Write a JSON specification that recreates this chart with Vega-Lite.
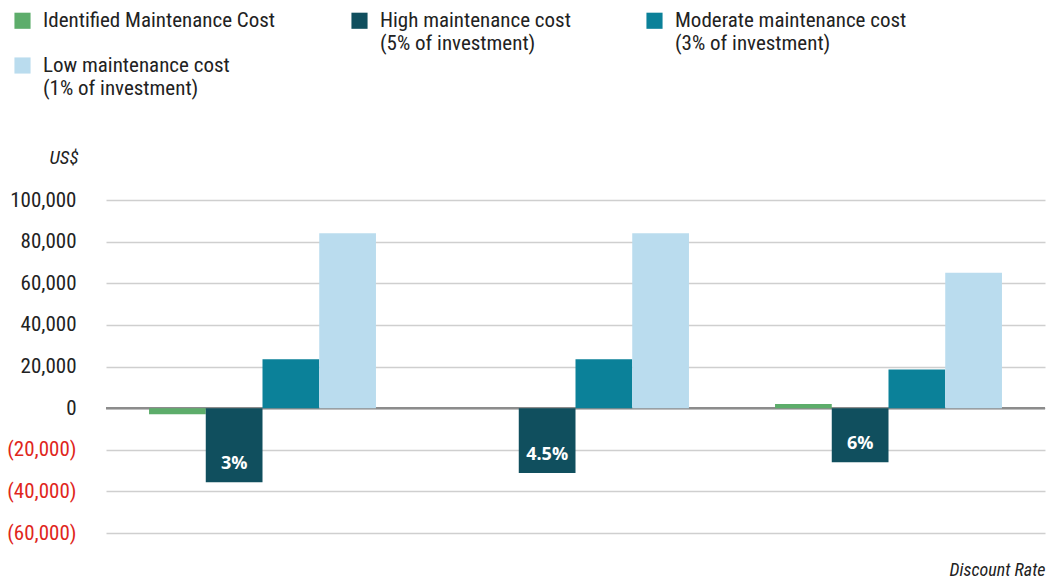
{
  "$schema": "https://vega.github.io/schema/vega-lite/v6.json",
  "width": 939,
  "height": 333,
  "autosize": {"type": "none"},
  "padding": {"left": 106, "top": 200, "right": 5, "bottom": 47},
  "background": "white",
  "config": {
    "font": "Roboto Condensed",
    "view": {"stroke": null},
    "axis": {"labelFont": "Roboto Condensed", "titleFont": "Roboto Condensed"},
    "legend": {"labelFont": "Roboto Condensed"}
  },
  "data": {
    "values": [
      {"rate": "3%", "series": "Identified Maintenance Cost|", "value": -3000},
      {"rate": "3%", "series": "High maintenance cost|(5% of investment)", "value": -35600},
      {"rate": "3%", "series": "Moderate maintenance cost|(3% of investment)", "value": 23500},
      {"rate": "3%", "series": "Low maintenance cost|(1% of investment)", "value": 84000},
      {"rate": "4.5%", "series": "Identified Maintenance Cost|", "value": 0},
      {"rate": "4.5%", "series": "High maintenance cost|(5% of investment)", "value": -31200},
      {"rate": "4.5%", "series": "Moderate maintenance cost|(3% of investment)", "value": 23500},
      {"rate": "4.5%", "series": "Low maintenance cost|(1% of investment)", "value": 84000},
      {"rate": "6%", "series": "Identified Maintenance Cost|", "value": 2000},
      {"rate": "6%", "series": "High maintenance cost|(5% of investment)", "value": -26000},
      {"rate": "6%", "series": "Moderate maintenance cost|(3% of investment)", "value": 18500},
      {"rate": "6%", "series": "Low maintenance cost|(1% of investment)", "value": 65000}
    ]
  },
  "encoding": {
    "x": {
      "field": "rate",
      "type": "nominal",
      "sort": ["3%", "4.5%", "6%"],
      "scale": {"paddingInner": 0.275, "paddingOuter": 0.1375},
      "axis": {
        "labels": false,
        "ticks": false,
        "domain": false,
        "title": "Discount Rate",
        "titleFontStyle": "italic",
        "titleFontWeight": "normal",
        "titleFontSize": 18,
        "titleColor": "#222",
        "titleAnchor": "end",
        "titlePadding": 28
      }
    },
    "xOffset": {
      "field": "series",
      "type": "nominal",
      "sort": [
        "Identified Maintenance Cost|",
        "High maintenance cost|(5% of investment)",
        "Moderate maintenance cost|(3% of investment)",
        "Low maintenance cost|(1% of investment)"
      ],
      "scale": {"paddingInner": 0, "paddingOuter": 0}
    },
    "y": {
      "field": "value",
      "type": "quantitative",
      "scale": {"domain": [-60000, 100000], "nice": false},
      "axis": {
        "values": [-60000, -40000, -20000, 0, 20000, 40000, 60000, 80000, 100000],
        "labelExpr": "datum.value < 0 ? '(' + format(-datum.value, ',') + ')' : format(datum.value, ',')",
        "labelColor": {"condition": {"test": "datum.value < 0", "value": "#e0261c"}, "value": "#222"},
        "labelFontSize": 21,
        "labelPadding": 30,
        "ticks": false,
        "domain": false,
        "gridColor": "#cfcfcf",
        "gridWidth": 1.5,
        "title": "US$",
        "titleAngle": 0,
        "titleAlign": "right",
        "titleBaseline": "middle",
        "titleX": -28,
        "titleY": -43,
        "titleFontStyle": "italic",
        "titleFontWeight": "normal",
        "titleFontSize": 19,
        "titleColor": "#222"
      }
    }
  },
  "layer": [
    {
      "mark": {"type": "rule", "color": "#8c8c8c", "strokeWidth": 2.5},
      "data": {"values": [{"zero": 0}]},
      "encoding": {
        "y": {"field": "zero", "type": "quantitative"},
        "x": null,
        "xOffset": null
      }
    },
    {
      "mark": {"type": "bar"},
      "encoding": {
        "color": {
          "field": "series",
          "type": "nominal",
          "scale": {
            "domain": [
              "Identified Maintenance Cost|",
              "High maintenance cost|(5% of investment)",
              "Moderate maintenance cost|(3% of investment)",
              "Low maintenance cost|(1% of investment)"
            ],
            "range": ["#5dad6b", "#104f5e", "#0b8199", "#badcee"]
          },
          "legend": {
            "orient": "none",
            "legendX": -94,
            "legendY": -190,
            "direction": "horizontal",
            "columns": 3,
            "title": null,
            "symbolType": "square",
            "symbolSize": 260,
            "symbolStrokeWidth": 0,
            "labelFontSize": 21,
            "labelColor": "#222",
            "labelLimit": 400,
            "labelExpr": "split(datum.label, '|')",
            "labelOffset": 10,
            "columnPadding": 73,
            "rowPadding": 0
          }
        }
      }
    },
    {
      "transform": [{"filter": "indexof(datum.series, 'High') == 0"}],
      "mark": {"type": "text", "color": "white", "fontWeight": "bold", "fontSize": 18, "font": "Open Sans", "dy": -18, "baseline": "middle"},
      "encoding": {
        "text": {"field": "rate"}
      }
    }
  ]
}
